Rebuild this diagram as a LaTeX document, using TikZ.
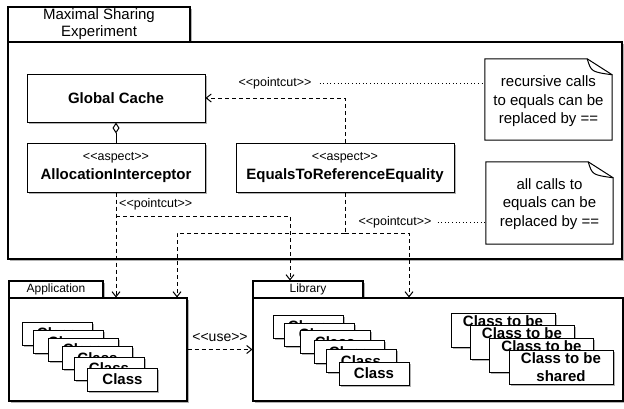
\documentclass[tikz,border=0pt]{standalone}
\usepackage{fontspec}
\setmainfont{Liberation Sans}
\usetikzlibrary{arrows.meta,shadows,calc}
\newcommand\stereo[1]{<\kern0pt<#1>\kern0pt>}
\newcommand\fs[2]{\fontsize{#1}{#2}\selectfont}
\begin{document}
\begin{tikzpicture}[x=1pt,y=-1pt,line join=miter,
  shad/.style={drop shadow={shadow xshift=1.5pt,shadow yshift=-1.5pt,opacity=0.3,fill=black}},
  box/.style={draw=black,fill=white,line width=1pt,inner sep=0pt,shad},
  pkg/.style={draw=black,fill=white,line width=1.1pt,inner sep=0pt,shad},
  cls/.style={box,minimum width=70pt,minimum height=23pt,font=\bfseries\fs{15}{18}},
  shared/.style={box,minimum width=104pt,minimum height=34pt,align=center,font=\bfseries\fs{15}{18}},
  aspectbox/.style={box,minimum height=49pt,align=center,font=\fs{15}{19}},
  notebox/.style={draw=black,fill=white,line width=1pt},
  notetext/.style={inner sep=0pt,align=center,font=\fs{15}{18.5}},
  lbl/.style={inner sep=0pt,font=\fs{12.5}{15}},
  dep/.style={draw=black,line width=1pt,dash pattern=on 4pt off 3pt,-{Straight Barb[length=5pt,width=8pt,line width=1pt]}},
  depline/.style={draw=black,line width=1pt,dash pattern=on 4pt off 3pt},
  dotl/.style={draw=black,line width=1pt,dash pattern=on 1pt off 2.6pt}]
\useasboundingbox (0,0) rectangle (624,408);

% top package
\node[pkg,minimum width=182pt,minimum height=35pt,align=center,font=\fs{15}{17}] (toptab) at (99,24.5) {Maximal Sharing\\Experiment};
\node[pkg,minimum width=614pt,minimum height=217pt] (topbody) at (315,150.5) {};

% inner boxes
\node[box,minimum width=178pt,minimum height=48pt,font=\bfseries\fs{15}{18}] (cache) at (116,98) {Global Cache};
\node[aspectbox,minimum width=178pt] (alloc) at (116,167.5) {{\fs{12.5}{15}\stereo{aspect}}\\{\bfseries AllocationInterceptor}};
\node[aspectbox,minimum width=218pt] (eq) at (345,167.5) {{\fs{12.5}{15}\stereo{aspect}}\\{\bfseries EqualsToReferenceEquality}};
\draw[line width=1pt,-{Diamond[open,length=11pt,width=7pt,line width=1pt]}] (alloc.north) -- (cache.south);

% notes
\path (548.5,99.5) node[minimum width=127pt,minimum height=81pt,inner sep=0pt] (note1) {};
\draw[notebox] (note1.north west) -- ([xshift=-25pt]note1.north east) -- ([yshift=-16pt]note1.north east) -- (note1.south east) -- (note1.south west) -- cycle;
\draw[line width=1pt] ([xshift=-25pt]note1.north east) .. controls ([xshift=-21pt,yshift=-13pt]note1.north east) .. ([yshift=-16pt]note1.north east);
\node[notetext] at ([yshift=-2pt]note1.center) {recursive calls\\to equals can be\\replaced by ==};

\path (549.5,203) node[minimum width=127pt,minimum height=82pt,inner sep=0pt] (note2) {};
\draw[notebox] (note2.north west) -- ([xshift=-25pt]note2.north east) -- ([yshift=-16pt]note2.north east) -- (note2.south east) -- (note2.south west) -- cycle;
\draw[line width=1pt] ([xshift=-25pt]note2.north east) .. controls ([xshift=-21pt,yshift=-13pt]note2.north east) .. ([yshift=-16pt]note2.north east);
\node[notetext] at ([yshift=-1pt]note2.center) {all calls to\\equals can be\\replaced by ==};

% bottom packages
\node[pkg,minimum width=94pt,minimum height=17pt,font=\fs{12}{14}] (apptab) at (56,289.5) {Application};
\node[pkg,minimum width=178pt,minimum height=103pt] (appbody) at (98,349.5) {};
\node[pkg,minimum width=110pt,minimum height=17pt,font=\fs{12}{14}] (libtab) at (308,289.5) {Library};
\node[pkg,minimum width=370pt,minimum height=103pt] (libbody) at (438,349.5) {};

% application classes
\node[cls] (a1) at (57,333.5) {Class};
\node[cls] (a2) at (68,342) {Class};
\node[cls] (a3) at (83,349.5) {Class};
\node[cls] (a4) at (97.5,358) {Class};
\node[cls] (a5) at (109,368.5) {Class};
\node[cls] (a6) at (122.5,379.5) {Class};

% library classes
\node[cls] (l1) at (308,326.5) {Class};
\node[cls] (l2) at (319,334.5) {Class};
\node[cls] (l3) at (335,342) {Class};
\node[cls] (l4) at (349,352) {Class};
\node[cls] (l5) at (361,361) {Class};
\node[cls] (l6) at (374,373.5) {Class};

% shared classes
\node[shared] (s1) at (503,330) {Class to be\\shared};
\node[shared] (s2) at (522,342) {Class to be\\shared};
\node[shared] (s3) at (541.5,355) {Class to be\\shared};
\node[shared] (s4) at (561,367.5) {Class to be\\shared};

% connectors
\node[lbl] (pc1) at (275,83) {\stereo{pointcut}};
\draw[dep] (eq.north) |- (cache.east);
\draw[dotl] ([xshift=8pt]pc1.east) -- (pc1.east -| note1.west);

\coordinate (j1) at (alloc.south |- 0,216);
\node[lbl,anchor=west] (pc3) at (119,204) {\stereo{pointcut}};
\draw[dep] (alloc.south) -- (alloc.south |- appbody.north);
\draw[dep] (j1) -| ([xshift=-18pt]libtab.north);

\coordinate (j2) at (eq.south |- 0,233);
\node[lbl] (pc2) at (395,222) {\stereo{pointcut}};
\draw[depline] (eq.south) -- (j2);
\draw[dep] (j2) -| ([xshift=79pt]appbody.north);
\draw[dep] (j2) -| ([xshift=-29pt]libbody.north);
\draw[dotl] ([xshift=6pt]pc2.east) -- (pc2.east -| note2.west);

\node[inner sep=0pt,font=\fs{14}{16}] (use) at (220,337) {\stereo{use}};
\draw[dep] (appbody.east) -- (appbody.east -| libbody.west);
\end{tikzpicture}
\end{document}
